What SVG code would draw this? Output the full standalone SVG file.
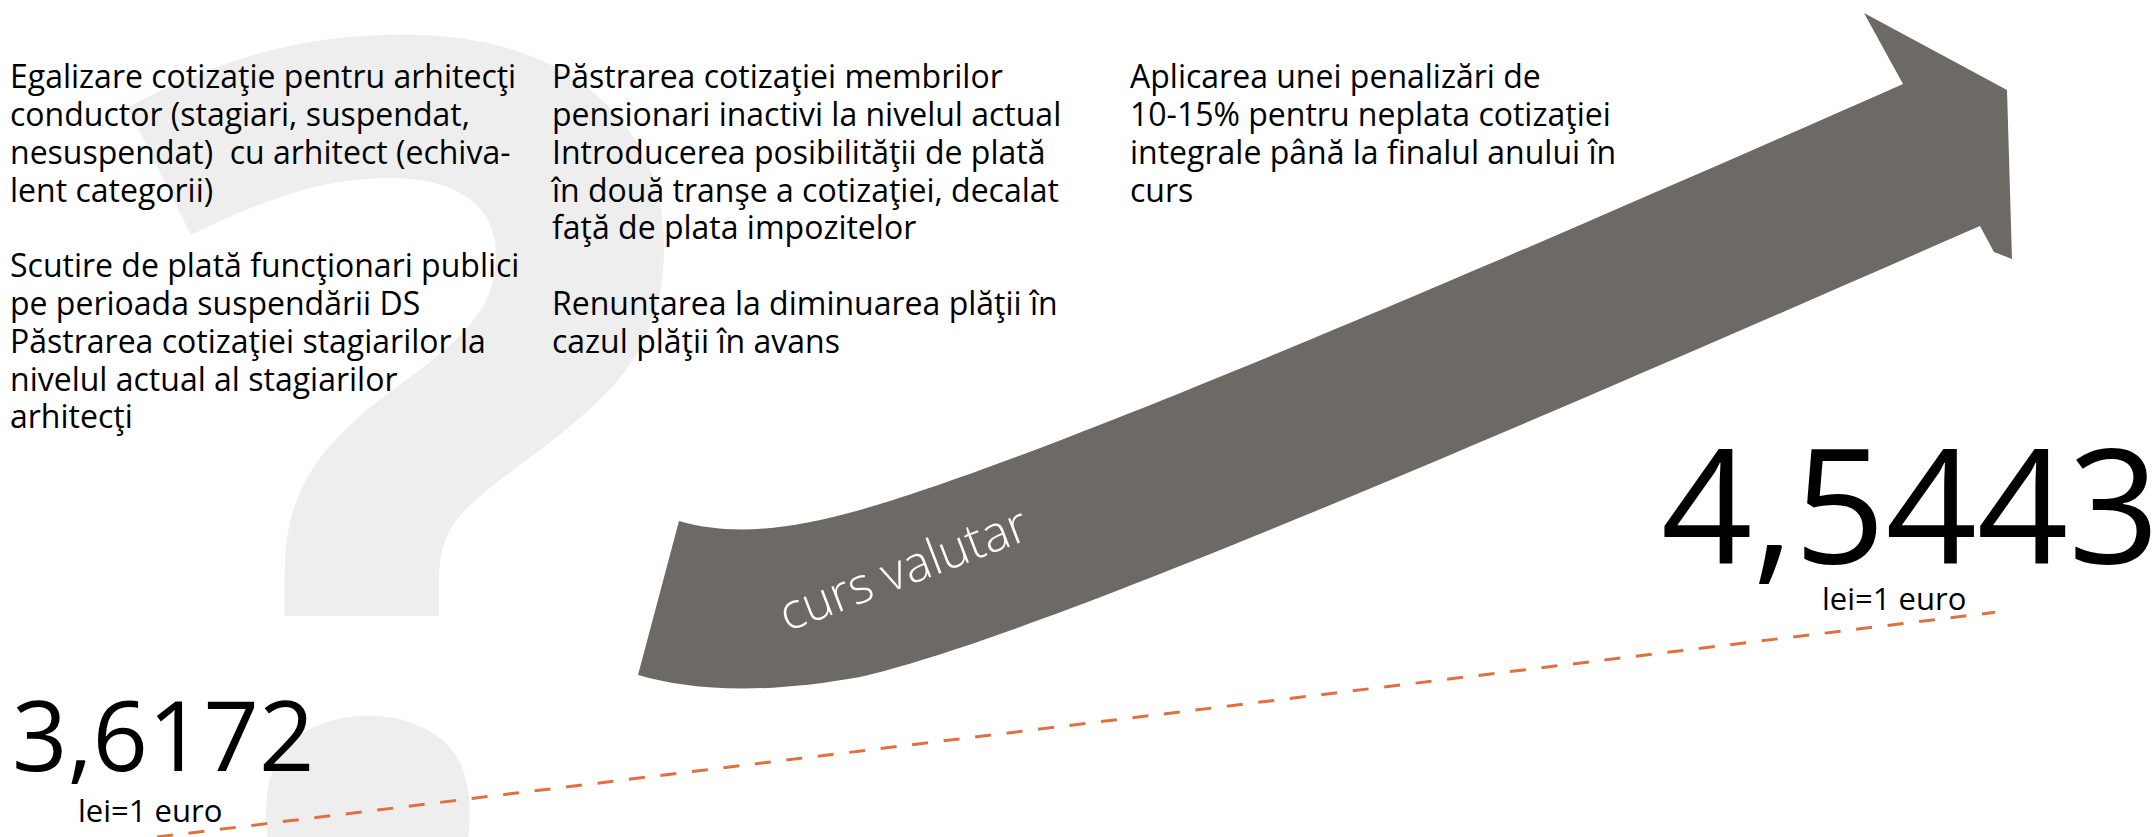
<svg xmlns="http://www.w3.org/2000/svg" width="2154" height="837" viewBox="0 0 2154 837">
<style>
.body{font-family:"Open Sans","Noto Sans","Liberation Sans",sans-serif;font-size:32px;fill:#000;white-space:pre}
.big{font-family:"Open Sans","Noto Sans","Liberation Sans",sans-serif;fill:#000}
.unit{font-family:"Open Sans","Noto Sans","Liberation Sans",sans-serif;font-size:31px;fill:#000}
.qm{font-family:"Open Sans","Noto Sans","Liberation Sans",sans-serif;font-weight:700;fill:#eeeeee}
.arrow{fill:#6d6965}
.lbl{font-family:"Open Sans","Noto Sans","Liberation Sans",sans-serif;font-weight:300;font-size:50px;fill:#fff}
.dash{fill:none;stroke:#e0703e;stroke-width:3;stroke-dasharray:16 15.7}
</style>
<rect width="2154" height="837" fill="#fff"/>
<g id="question-mark">
<text class="qm" x="124" y="898" font-size="1192">?</text>
</g>
<g id="arrow">
<path class="arrow" d="M679,521 C730,536 790,530 860,510 C1000,470 1300,350 1903,84 L1864,13 L2007,90 L2012,259 L1994,252 L1980,226 C1400,480 1020,640 860,677 C760,695 690,690 638,675 Z"/>
<text class="lbl" transform="translate(787,632) rotate(-21)">curs valutar</text>
</g>
<g id="col1">
<text class="body"><tspan x="10" y="88">Egalizare cotizaţie pentru arhitecţi</tspan><tspan x="10" y="126">conductor (stagiari, suspendat,</tspan><tspan x="10" y="164">nesuspendat)  cu arhitect (echiva-</tspan><tspan x="10" y="202">lent categorii)</tspan><tspan x="10" y="277">Scutire de plată funcţionari publici</tspan><tspan x="10" y="315">pe perioada suspendării DS</tspan><tspan x="10" y="353">Păstrarea cotizaţiei stagiarilor la</tspan><tspan x="10" y="391">nivelul actual al stagiarilor</tspan><tspan x="10" y="428">arhitecţi</tspan></text>
</g>
<g id="col2">
<text class="body"><tspan x="552" y="88">Păstrarea cotizaţiei membrilor</tspan><tspan x="552" y="126">pensionari inactivi la nivelul actual</tspan><tspan x="552" y="164">Introducerea posibilităţii de plată</tspan><tspan x="552" y="202">în două tranşe a cotizaţiei, decalat</tspan><tspan x="552" y="239">faţă de plata impozitelor</tspan><tspan x="552" y="315">Renunţarea la diminuarea plăţii în</tspan><tspan x="552" y="353">cazul plăţii în avans</tspan></text>
</g>
<g id="col3">
<text class="body"><tspan x="1130" y="88">Aplicarea unei penalizări de</tspan><tspan x="1130" y="126">10-15% pentru neplata cotizaţiei</tspan><tspan x="1130" y="164">integrale până la finalul anului în</tspan><tspan x="1130" y="202">curs</tspan></text>
</g>
<g id="connectors">
<path class="dash" d="M157,837 L1995,612.3"/>
</g>
<g id="value-start">
<text class="big" x="12" y="771" font-size="97">3,6172</text>
<text class="unit" x="78" y="822">lei=1 euro</text>
</g>
<g id="value-end">
<text class="big" x="1661" y="563" font-size="160">4,5443</text>
<text class="unit" x="1822" y="610">lei=1 euro</text>
</g>
</svg>
